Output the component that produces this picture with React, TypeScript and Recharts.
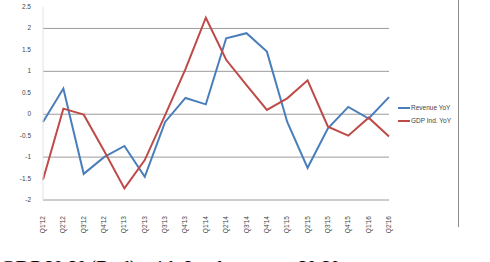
import { CartesianGrid, Legend, Line, LineChart, XAxis, YAxis } from "recharts";

const quarters = [
  "Q1'12", "Q2'12", "Q3'12", "Q4'12",
  "Q1'13", "Q2'13", "Q3'13", "Q4'13",
  "Q1'14", "Q2'14", "Q3'14", "Q4'14",
  "Q1'15", "Q2'15", "Q3'15", "Q4'15",
  "Q1'16", "Q2'16",
];

const revenueYoY = [
  -0.18, 0.6, -1.39, -1.0, -0.74, -1.46, -0.18, 0.38, 0.23,
  1.77, 1.89, 1.46, -0.18, -1.25, -0.33, 0.17, -0.1, 0.4,
];

const gdpYoY = [
  -1.53, 0.13, -0.01, -0.85, -1.73, -1.07, -0.02, 1.05, 2.25,
  1.27, 0.68, 0.1, 0.37, 0.79, -0.29, -0.5, -0.08, -0.52,
];

const yTicks = [-2, -1.5, -1, -0.5, 0, 0.5, 1, 1.5, 2, 2.5];
const gridValues = [-2, -1, 0, 1, 2];
const legendOrder = ["Revenue YoY", "GDP Ind. YoY"];

const data = quarters.map((q, i) => ({
  q,
  rev: revenueYoY[i],
  gdp: gdpYoY[i],
}));

const XTick = ({ x, y, payload }: any) => (
  <text
    x={0}
    y={0}
    transform={`translate(${x + 2},${y + 8}) rotate(-90)`}
    textAnchor="end"
    fontSize={6.5}
    fill="#444"
  >
    {payload.value}
  </text>
);

const YTick = ({ x, y, payload }: any) => (
  <text x={x - 4} y={y + 2} textAnchor="end" fontSize={6.5} fill="#444">
    {payload.value}
  </text>
);

const LegendBox = ({ payload }: any) => {
  const items = [...(payload || [])].sort(
    (a: any, b: any) => legendOrder.indexOf(a.value) - legendOrder.indexOf(b.value)
  );
  return (
    <div style={{ fontFamily: "Arial, sans-serif", fontSize: 6.5, color: "#444" }}>
      {items.map((p: any) => (
        <div key={p.value} style={{ display: "flex", alignItems: "center", height: 13 }}>
          <span
            style={{ width: 12, height: 2, background: p.color, marginRight: 1, display: "inline-block" }}
          />
          {p.value}
        </div>
      ))}
    </div>
  );
};

export default function App() {
  return (
    <div
      style={{
        position: "fixed",
        left: 0,
        top: 0,
        width: 490,
        height: 262,
        overflow: "hidden",
        background: "#fff",
        fontFamily: "Arial, sans-serif",
      }}
    >
      <LineChart
        width={490}
        height={262}
        data={data}
        margin={{ top: 7, right: 101, bottom: 0, left: 0 }}
      >
        <CartesianGrid vertical={false} stroke="#9c9c9c" horizontalValues={gridValues} />
        <XAxis
          dataKey="q"
          interval={0}
          height={62}
          tick={<XTick />}
          tickLine={false}
          axisLine={false}
        />
        <YAxis
          width={43}
          domain={[-2, 2.5]}
          ticks={yTicks}
          interval={0}
          tick={<YTick />}
          tickLine={false}
          axisLine={{ stroke: "#e2e2e2" }}
        />
        <Legend
          verticalAlign="top"
          content={<LegendBox />}
          wrapperStyle={{ position: "absolute", left: 398, top: 101, width: 80, height: 0 }}
        />
        <Line
          name="Revenue YoY"
          dataKey="rev"
          stroke="#4a7ebb"
          strokeWidth={2}
          dot={false}
          isAnimationActive={false}
        />
        <Line
          name="GDP Ind. YoY"
          dataKey="gdp"
          stroke="#be4b48"
          strokeWidth={2}
          dot={false}
          isAnimationActive={false}
        />
      </LineChart>
      <div
        style={{
          position: "absolute",
          left: 458,
          top: 0,
          width: 1,
          height: 227,
          background: "#8c8c8c",
        }}
      />
      <div
        style={{
          position: "absolute",
          left: 0,
          top: 256,
          fontFamily: "'Liberation Serif', serif",
          fontSize: 21,
          lineHeight: "24px",
          whiteSpace: "nowrap",
          color: "#000",
        }}
      >
        GDP YoY (Red) with Intel revenue YoY
      </div>
    </div>
  );
}
